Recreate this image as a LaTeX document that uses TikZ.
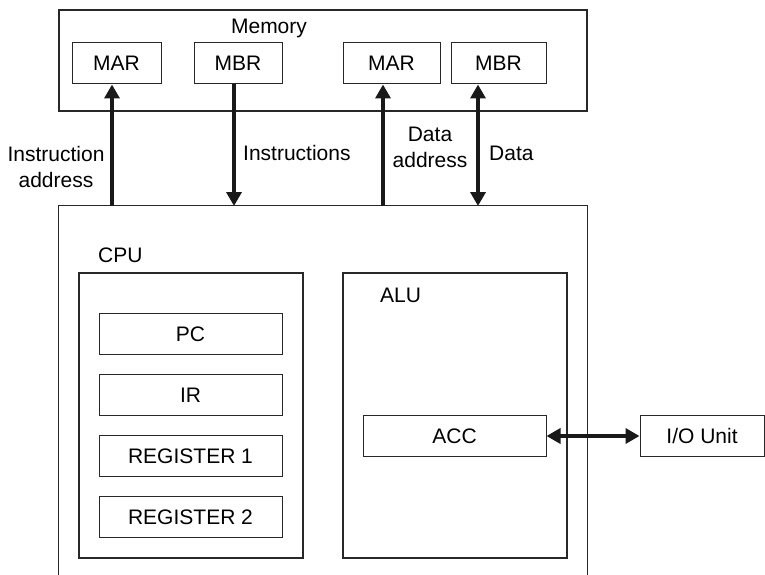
\documentclass[tikz,border=0pt]{standalone}
\usepackage{fontspec}
\setmainfont{Liberation Sans}
\usetikzlibrary{arrows.meta, positioning, calc}
\definecolor{linecolor}{RGB}{40,40,40}
\tikzset{
  unit/.style={draw=linecolor, line width=1.2pt, inner sep=0pt},
  regbox/.style={draw=linecolor, line width=1pt, inner sep=0pt,
                 minimum width=#1, minimum height=41pt},
  regbox/.default=183pt,
  tag/.style={inner sep=0pt, align=center},
  bus/.style={line width=3.5pt, draw=black!90,
              -{Triangle[length=14pt, width=15pt]}},
  dbus/.style={line width=3.5pt, draw=black!90,
               {Triangle[length=14pt, width=15pt]}-{Triangle[length=14pt, width=15pt]}},
}

\begin{document}
\begin{tikzpicture}[x=1pt, y=-1pt, font=\fontsize{21}{26}\selectfont]
  \useasboundingbox (0,0) rectangle (765,575);

  % Memory
  \node[unit, minimum width=528pt, minimum height=101pt] (mem) at (323,60.5) {};
  \node[tag] (memlbl) at (269,28) {Memory};
  \node[regbox=89pt] (mar1) at (116.5,63.5) {MAR};
  \node[regbox=88pt] (mbr1) at (238,63.5) {MBR};
  \node[regbox=97pt] (mar2) at (391.5,63.5) {MAR};
  \node[regbox=95pt] (mbr2) at (498.5,63.5) {MBR};

  % CPU (open at the bottom)
  \node[minimum width=528pt, minimum height=369pt, inner sep=0pt] (cpu) at (323,390.5) {};
  \draw[unit] (cpu.south west) |- (cpu.north east) -- (cpu.south east);
  \node[tag, anchor=west] (cpulbl) at (98,255) {CPU};

  % Register bank
  \node[unit, minimum width=224pt, minimum height=285pt] (regs) at (191,415.5) {};
  \node[regbox] (pc) at (190.5,334) {PC};
  \node[regbox] (ir) at (190.5,395) {IR};
  \node[regbox] (reg1) at (190.5,456) {REGISTER 1};
  \node[regbox] (reg2) at (190.5,517) {REGISTER 2};

  % ALU
  \node[unit, minimum width=224pt, minimum height=285pt] (alu) at (455,415.5) {};
  \node[tag, anchor=west] (alulbl) at (380,295) {ALU};
  \node[regbox] (acc) at (454.5,436) {ACC};

  % I/O
  \node[regbox=124pt] (io) at (702,436) {I/O Unit};
  \draw[dbus] (acc.east) -- (io.west);

  % Buses between CPU and memory
  \coordinate (ia) at (112,206);
  \coordinate (in) at (234,206);
  \coordinate (da) at (383,206);
  \coordinate (dt) at (478,206);
  \draw[bus] (ia) -- (ia |- mar1.south);
  \draw[bus] (in |- mbr1.south) -- (in);
  \draw[bus] (da) -- (da |- mar2.south);
  \draw[dbus] (dt) -- (dt |- mbr2.south);

  \node[tag] (ialbl) at (56,167) {Instruction\\address};
  \node[tag, anchor=west] (inlbl) at (243,153) {Instructions};
  \node[tag] (dalbl) at (430,147) {Data\\address};
  \node[tag, anchor=west] (dtlbl) at (489,153) {Data};
\end{tikzpicture}
\end{document}
